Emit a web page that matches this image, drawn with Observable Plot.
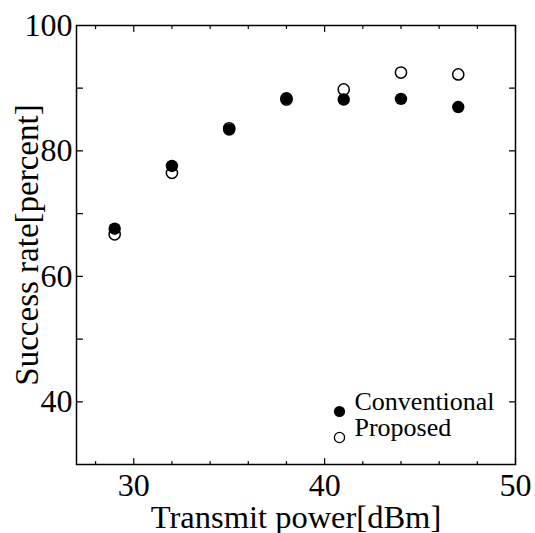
<!DOCTYPE html>
<html>
<head>
<meta charset="utf-8">
<script src="https://cdn.jsdelivr.net/npm/d3@7"></script>
<script src="https://cdn.jsdelivr.net/npm/@observablehq/plot@0.6"></script>
<style>
  html, body { margin: 0; padding: 0; background: #fff; }
  svg { display: block; }
</style>
</head>
<body>
<div id="chart"></div>
<script>
// Data
const power = [29, 32, 35, 38, 41, 44, 47];
const conventional = [67.6, 77.6, 83.4, 88.4, 88.2, 88.3, 87.0];
const proposed = [66.7, 76.5, 83.6, 88.2, 89.8, 92.5, 92.2];

const xTickLabels = [30, 40, 50];
const xMinorTicks = [28, 32, 34, 36, 38, 42, 44, 46, 48];
const yTickLabels = [40, 60, 80, 100];
const yAllTicks = [40, 50, 60, 70, 80, 90, 100];

const legendLabels = ["Conventional", "Proposed"];
const xTitle = "Transmit power[dBm]";
const yTitle = "Success rate[percent]";

const convData = power.map((x, i) => ({x, y: conventional[i]}));
const propData = power.map((x, i) => ({x, y: proposed[i]}));

const tickShape = {draw(context, l) { context.moveTo(0, 0); context.lineTo(0, -l); }};
const font = "'Liberation Serif', 'Times New Roman', serif";

const chart = Plot.plot({
  width: 535,
  height: 533,
  marginLeft: 76,
  marginRight: 20,
  marginTop: 25,
  marginBottom: 69,
  style: {fontFamily: font, background: "white", color: "black"},
  x: {domain: [27, 50]},
  y: {domain: [30, 100]},
  marks: [
    Plot.frame({stroke: "black", strokeWidth: 1.5}),
    Plot.axisX(xTickLabels, {tickSize: 0, tickPadding: 9, fontSize: 32, label: null, tickFormat: d => String(d)}),
    Plot.axisY(yTickLabels, {tickSize: 0, tickPadding: 4, fontSize: 32, label: null, tickFormat: d => String(d)}),
    // inward ticks
    Plot.vector(xTickLabels, {x: d => d, frameAnchor: "bottom", rotate: 0, length: 6, anchor: "start", shape: tickShape, stroke: "black", strokeWidth: 1.2}),
    Plot.vector(xMinorTicks, {x: d => d, frameAnchor: "bottom", rotate: 0, length: 3, anchor: "start", shape: tickShape, stroke: "black", strokeWidth: 1.2}),
    Plot.vector(xTickLabels, {x: d => d, frameAnchor: "top", rotate: 180, length: 6, anchor: "start", shape: tickShape, stroke: "black", strokeWidth: 1.2}),
    Plot.vector(xMinorTicks, {x: d => d, frameAnchor: "top", rotate: 180, length: 3, anchor: "start", shape: tickShape, stroke: "black", strokeWidth: 1.2}),
    Plot.vector(yAllTicks, {y: d => d, frameAnchor: "left", rotate: 90, length: 6, anchor: "start", shape: tickShape, stroke: "black", strokeWidth: 1.2}),
    Plot.vector(yAllTicks, {y: d => d, frameAnchor: "right", rotate: -90, length: 6, anchor: "start", shape: tickShape, stroke: "black", strokeWidth: 1.2}),
    // axis titles
    Plot.text([xTitle], {frameAnchor: "bottom", dy: 63, lineAnchor: "bottom", textAnchor: "middle", fontSize: 32.5, fill: "black"}),
    Plot.text([yTitle], {frameAnchor: "left", dx: -49, rotate: -90, textAnchor: "middle", lineAnchor: "middle", fontSize: 33, fill: "black"}),
    // data
    Plot.dot(propData, {x: "x", y: "y", r: 5.6, fill: "white", stroke: "black", strokeWidth: 1.5}),
    Plot.dot(convData, {x: "x", y: "y", r: 6.2, fill: "black", stroke: "none"}),
    // legend
    Plot.dot([legendLabels[0]], {frameAnchor: "bottom-left", dx: 263, dy: -53, r: 5.6, fill: "black"}),
    Plot.dot([legendLabels[1]], {frameAnchor: "bottom-left", dx: 263, dy: -27, r: 5.1, fill: "white", stroke: "black", strokeWidth: 1.3}),
    Plot.text([legendLabels[0]], {text: d => d, frameAnchor: "bottom-left", dx: 278, dy: -55, textAnchor: "start", fontSize: 26, fill: "black"}),
    Plot.text([legendLabels[1]], {text: d => d, frameAnchor: "bottom-left", dx: 278, dy: -29, textAnchor: "start", fontSize: 26, fill: "black"})
  ]
});
document.getElementById("chart").appendChild(chart);
</script>
</body>
</html>
